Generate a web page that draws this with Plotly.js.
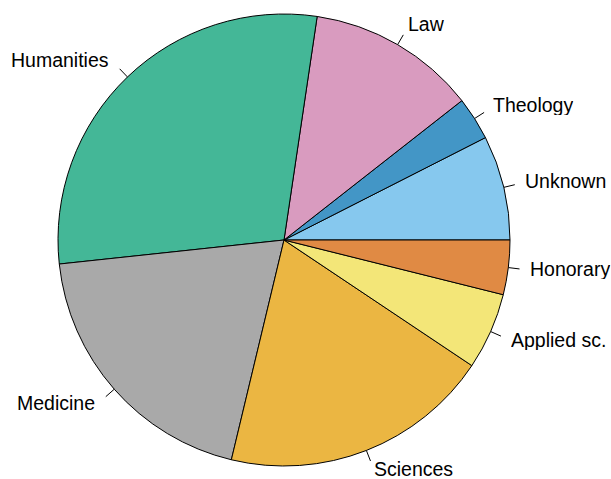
<!DOCTYPE html>
<html>
<head>
<meta charset="utf-8">
<script src="https://cdn.plot.ly/plotly-3.0.1.min.js"></script>
<style>html,body{margin:0;padding:0;background:#fff;}#chart{width:611px;height:479px;}</style>
</head>
<body>
<div id="chart"></div>
<script>
const categories = ["Unknown", "Theology", "Law", "Humanities", "Medicine", "Sciences", "Applied sc.", "Honorary"];
const values = [7.5, 3.1, 12.1, 29.1, 19.6, 19.4, 5.5, 3.9];
const colors = ["#86C8EE", "#4396C6", "#D99BBF", "#44B797", "#A9A9A9", "#EBB642", "#F3E678", "#E08A44"];

const total = values.reduce((a, b) => a + b, 0);
const annotations = [];
const shapes = [];
let cum = 0;
values.forEach((v, i) => {
  const mid = (cum + v / 2) / total * 2 * Math.PI;
  cum += v;
  const c = Math.cos(mid), s = Math.sin(mid);
  const r = 0.5;
  shapes.push({type: "line", xref: "paper", yref: "paper",
    x0: 0.5 + r * 1.0 * c, y0: 0.5 + r * 1.0 * s,
    x1: 0.5 + r * 1.05 * c, y1: 0.5 + r * 1.05 * s,
    line: {color: "#000", width: 1}});
  annotations.push({xref: "paper", yref: "paper",
    x: 0.5 + r * 1.1 * c, y: 0.5 + r * 1.1 * s,
    text: categories[i], showarrow: false,
    xanchor: c >= 0 ? "left" : "right", yanchor: "middle",
    xshift: -1.5, yshift: s < -0.9 ? 2.5 : 1,
    height: 20,
    borderpad: 0,
    font: {family: "Liberation Sans, Arial, sans-serif", size: 19.5, color: "#000"}});
});

// first slice starts at 3 o'clock and runs counterclockwise
const rotation = 90 - values[0] / total * 360;

const data = [{
  type: "pie",
  labels: categories,
  values: values,
  sort: false,
  direction: "counterclockwise",
  rotation: rotation,
  textinfo: "none",
  hoverinfo: "label+value",
  marker: {colors: colors, line: {color: "#000", width: 1}},
  domain: {x: [0, 1], y: [0, 1]}
}];

const layout = {
  width: 611, height: 479,
  margin: {l: 58, r: 101, t: 14, b: 13, pad: 0},
  showlegend: false,
  paper_bgcolor: "#fff",
  annotations: annotations,
  shapes: shapes
};

Plotly.newPlot("chart", data, layout, {displayModeBar: false, staticPlot: true});
</script>
</body>
</html>
